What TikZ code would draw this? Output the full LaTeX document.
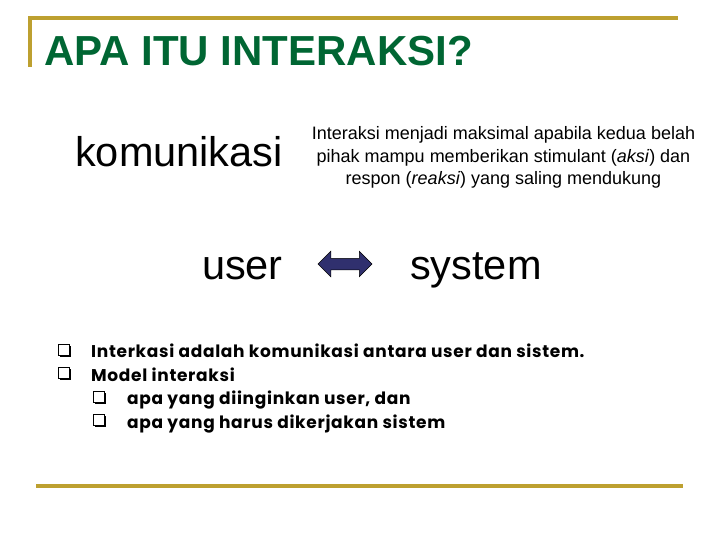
\documentclass[tikz,border=0pt]{standalone}
\usepackage{fontspec}
\setmainfont{Liberation Sans}
\newfontfamily\geofont{Poppins}[LetterSpace=4]
\usetikzlibrary{shapes.arrows,shadows}
\definecolor{gold}{RGB}{189,160,48}
\definecolor{titlegreen}{RGB}{0,102,51}
\definecolor{navy}{RGB}{48,48,110}
\tikzset{
  goldline/.style={draw=gold, line width=3.2pt},
  bigword/.style={font=\fontsize{41.5}{46}\selectfont, inner sep=0pt},
  bullettext/.style={font=\geofont\bfseries\fontsize{17}{20}\selectfont, inner sep=0pt, anchor=base west},
  qbox/.style={draw=black, fill=white, line width=0.9pt, minimum size=11pt, inner sep=0pt,
    general shadow={fill=black, shadow xshift=1.5pt, shadow yshift=-1.5pt}},
  blockarrow/.style={double arrow, draw=black, line width=0.5pt, fill=navy, inner sep=0pt,
    minimum height=54pt, minimum width=25pt, double arrow head extend=7pt, text height=11pt}
}
\begin{document}
\begin{tikzpicture}[x=1pt,y=-1pt]
\useasboundingbox (0,0) rectangle (720,540);
% frame lines
\coordinate (tl) at (30,18);
\coordinate (tr) at (678,18);
\coordinate (lb) at (30,67);
\coordinate (bl) at (36,486);
\coordinate (br) at (683,486);
\draw[goldline] (lb) -- (tl) -- (tr);
\draw[goldline] (bl) -- (br);
% title
\node[anchor=base west, inner sep=0pt, text=titlegreen, font=\bfseries\fontsize{42}{46}\selectfont] (title) at (44,66) {APA ITU INTERAKSI?};
% left words
\node[bigword, anchor=base east] (kom) at (283,167) {komunikasi};
\node[bigword, anchor=base east] (user) at (283,279) {user};
\node[bigword, anchor=base west] (system) at (410,279) {system};
% paragraph
\node[align=center, inner sep=0pt, font=\fontsize{18}{22.5}\selectfont, anchor=base] (para) at (503.5,185)
  {Interaksi menjadi maksimal apabila kedua belah\\
   pihak mampu memberikan stimulant (\textit{aksi}) dan\\
   respon (\textit{reaksi}) yang saling mendukung};
% arrow
\node[blockarrow] (arr) at (345,264) {};
% bullets
\node[qbox] (q1) at (64,349.5) {};
\node[bullettext] (t1) at (91,357.5) {Interkasi adalah komunikasi antara user dan sistem.};
\node[qbox] (q2) at (64,373) {};
\node[bullettext] (t2) at (91,381) {Model interaksi};
\node[qbox] (q3) at (99,396.5) {};
\node[bullettext] (t3) at (127,404.5) {apa yang diinginkan user, dan};
\node[qbox] (q4) at (99,420) {};
\node[bullettext] (t4) at (127,428) {apa yang harus dikerjakan sistem};
\end{tikzpicture}
\end{document}
